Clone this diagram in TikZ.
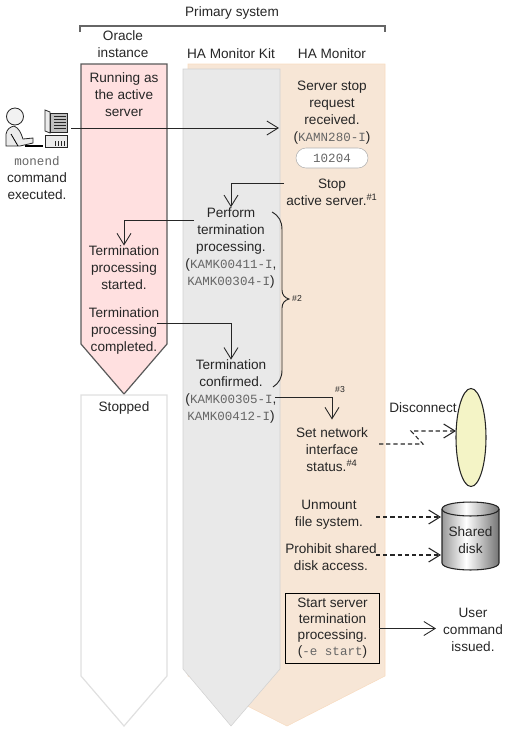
\documentclass[tikz,border=0pt]{standalone}
\usepackage{fontspec}
\setmainfont{Liberation Sans}
\setmonofont{Liberation Mono}
\usepackage{xcolor}
\usetikzlibrary{shapes.geometric, shapes.misc, arrows.meta, positioning}

\definecolor{bandred}{HTML}{FFE0E0}
\definecolor{bandorange}{HTML}{F7E6D6}
\definecolor{bandgrey}{HTML}{E9E9E9}
\definecolor{diskyellow}{HTML}{F4F4C6}
\definecolor{msggrey}{HTML}{666666}

\newcommand{\msg}[1]{{\fontsize{9.4}{12.75}\selectfont\ttfamily\textcolor{msggrey}{#1}}}
\newcommand{\nte}[1]{\textsuperscript{\fontsize{7}{7}\selectfont\##1}}

\begin{document}
\begin{tikzpicture}[
    x=0.75pt, y=-0.75pt,
    every node/.style={inner sep=0pt, outer sep=0pt, align=center, text=black!85, font=\fontsize{10.2}{12.75}\selectfont},
    smallnote/.style={font=\fontsize{6.5}{8}\selectfont},
    pill/.style={rounded rectangle, draw=black!30, fill=white, minimum width=54pt, minimum height=15pt},
    framebox/.style={rectangle, draw=black, line width=0.9pt, minimum width=70pt, minimum height=53pt, font=\fontsize{10.2}{12}\selectfont},
    arrow/.style={-{Straight Barb[length=8.5pt,width=10.5pt]}, line width=0.65pt, black!85},
    dasharrow/.style={arrow, line width=0.8pt, dash pattern=on 3.2pt off 2.2pt},
    bracket/.style={line width=1pt, black!60},
    icon/.style={draw=black!85, line width=0.6pt, fill=black!8},
    diskline/.style={draw=black!85, line width=0.8pt}
]
\useasboundingbox (0,0) rectangle (511,729);

% swim lanes
\path[fill=bandorange, draw=bandorange!90!orange] (188,64) -- (385,64) -- (385,676) -- (287,726) -- (188,676) -- cycle;
\path[fill=bandgrey, draw=black!18] (183,69) -- (280,69) -- (280,669) -- (231,726) -- (183,669) -- cycle;
\path[fill=bandred, draw=black!65, line width=0.9pt] (81,64) -- (167,64) -- (167,344) -- (124,394) -- (81,344) -- cycle;
\path[fill=white, draw=black!12, line width=0.9pt] (81,395) -- (167,395) -- (167,676) -- (124,726) -- (81,676) -- cycle;

% heading
\node (primary) at (232,13) {Primary system};
\draw[bracket] (80,32) -- (80,26) -- (385,26) -- (385,32);
\node (oracle) at (123,44.5) {Oracle\\instance};
\node (kit) at (231,54) {HA Monitor Kit};
\node (monitor) at (332,54) {HA Monitor};

% operator
\draw[icon] (6,146) -- (6,134) .. controls (7,129) and (10,127) .. (14,126) .. controls (19,128) and (21,133) .. (23,139) -- (33,138) -- (33,143) -- (20,146) -- cycle;
\draw[icon, fill=black!5] (15,116.5) circle (8.5);
\draw[line width=0.6pt] (11,134) -- (18,146);
\draw[line width=0.8pt] (25,146) -- (43,146);
\draw[icon] (45,110) -- (50,112) -- (50,133) -- (45,131) -- cycle;
\draw[icon, fill=black!25] (50,113) rectangle (67,132);
\foreach \y in {116,119,...,130} \draw[black!85, line width=0.5pt] (54,\y) -- (66,\y);
\draw[icon] (45,135) rectangle (67,147);
\foreach \x in {55,58,61,64} \draw[black!85, line width=0.6pt] (\x,141) -- (\x,146);
\node (operator) at (37,178) {\msg{monend}\\command\\executed.};
\coordinate (opout) at (71,128);
\coordinate (opin) at (279,128);

% red lane
\node (running) at (124,95) {Running as\\the active\\server};
\node (started) at (124,267.5) {Termination\\processing\\started.};
\node (completed) at (124,330.5) {Termination\\processing\\completed.};
\node (stopped) at (124,408) {Stopped};

% grey lane
\node (perform) at (231,247.5) {Perform\\termination\\processing.\\(\msg{KAMK00411-I},\\\msg{KAMK00304-I})};
\node (confirmed) at (231,391.5) {Termination\\confirmed.\\(\msg{KAMK00305-I},\\\msg{KAMK00412-I})};

% orange lane
\node (request) at (332,113) {Server stop\\request\\received.\\(\msg{KAMN280-I})};
\node (code) [pill] at (332,158) {\msg{10204}};
\node (stop) at (332,192) {Stop\\active server.\nte{1}};
\node (netif) at (332,449.5) {Set network\\interface\\status.\nte{4}};
\node (unmount) at (329,515) {Unmount\\file system.};
\node (prohibit) at (331,557.5) {Prohibit shared\\disk access.};
\node (startterm) [framebox] at (332.5,628.5) {Start server\\termination\\processing.\\(\msg{-e start})};

% outside the lanes
\node (disconnect) at (423,407.5) {Disconnect};
\node (nic) [ellipse, draw=black!85, line width=0.8pt, fill=diskyellow, minimum width=22.5pt, minimum height=73.5pt] at (471,437.5) {};
\begin{scope}
  \clip (442,509) -- (442,563) .. controls (442,572.3) and (499,572.3) .. (499,563) -- (499,509) .. controls (499,499.7) and (442,499.7) .. (442,509) -- cycle;
  \foreach \x in {442,...,498} {
    \pgfmathsetmacro{\tone}{abs(\x-466)/33*55}
    \fill[black!\tone] (\x,500) rectangle (\x+1.4,572);
  }
\end{scope}
\draw[diskline] (442,509) -- (442,563) .. controls (442,572.3) and (499,572.3) .. (499,563) -- (499,509) .. controls (499,499.7) and (442,499.7) .. (442,509) -- cycle;
\draw[diskline] (442,509) .. controls (442,518.3) and (499,518.3) .. (499,509);
\node (disk) at (470.5,540) {Shared\\disk};
\node (usercmd) at (473,629.5) {User\\command\\issued.};
\node (note2) [smallnote] at (297,298) {\#2};
\node (note3) [smallnote] at (340,390) {\#3};

% connectors
\coordinate (stopout) at (284,183);
\coordinate (performout) at (194,220);
\coordinate (completedout) at (157,323);
\coordinate (confirmedout) at (275,397);
\coordinate (netout) at (379,444);
\coordinate (netbend) at (423,444);
\coordinate (netback) at (411,431);
\coordinate (netin) at (456,431);
\coordinate (unmountout) at (376,517);
\coordinate (unmountin) at (441,517);
\coordinate (prohibitout) at (376,555);
\coordinate (prohibitin) at (441,555);
\coordinate (userin) at (436,628.5);

\draw[arrow] (opout) -- (opin);
\draw[arrow] (stopout) -| (perform.north);
\draw[arrow] (performout) -| (started.north);
\draw[arrow] (completedout) -| (confirmed.north);
\draw[arrow, shorten >=6pt] (confirmedout) -| (netif.north);
\draw[dasharrow] (netout) -- (netbend) -- (netback) -- (netin);
\draw[dasharrow] (unmountout) -- (unmountin);
\draw[dasharrow] (prohibitout) -- (prohibitin);
\draw[arrow] (startterm.east) -- (userin);

% brace
\draw[line width=0.7pt, black!85] (272,212) .. controls (279,216) and (282,221) .. (282,230) -- (282,290) .. controls (282,295) and (285,298) .. (289,299) .. controls (285,300) and (282,303) .. (282,308) -- (282,370) .. controls (282,378) and (279,383) .. (273,387);

\end{tikzpicture}
\end{document}
